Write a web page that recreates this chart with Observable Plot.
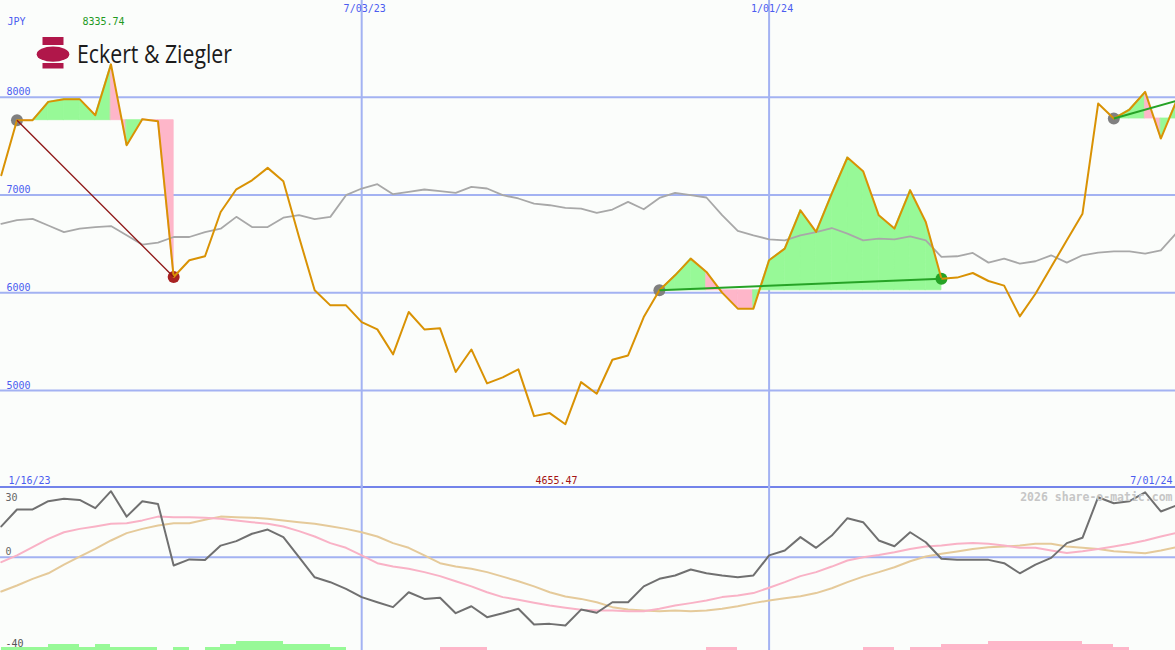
<!DOCTYPE html>
<html><head><meta charset="utf-8">
<script src="https://cdn.jsdelivr.net/npm/d3@7"></script>
<script src="https://cdn.jsdelivr.net/npm/@observablehq/plot@0.6"></script>
<style>
html,body{margin:0;padding:0;background:#fbfdfb;overflow:hidden;}
#chart{position:relative;width:1175px;height:650px;background:#fbfdfb;overflow:hidden;}
#chart > svg{position:absolute;left:0;}
#sep{position:absolute;left:0;top:486px;width:1175px;height:2px;background:#7383ea;}
#logo{position:absolute;left:0;top:0;}
</style></head><body><div id="chart"><div id="sep"></div></div>
<script>
// ---------- data ----------
const dates = ["2023-01-23","2023-01-30","2023-02-06","2023-02-13","2023-02-20","2023-02-27","2023-03-06","2023-03-13","2023-03-20","2023-03-27",
"2023-04-03","2023-04-10","2023-04-17","2023-04-24","2023-05-01","2023-05-08","2023-05-15","2023-05-22","2023-05-29","2023-06-05",
"2023-06-12","2023-06-19","2023-06-26","2023-07-03","2023-07-10","2023-07-17","2023-07-24","2023-07-31","2023-08-07","2023-08-14",
"2023-08-21","2023-08-28","2023-09-04","2023-09-11","2023-09-18","2023-09-25","2023-10-02","2023-10-09","2023-10-16","2023-10-23",
"2023-10-30","2023-11-06","2023-11-13","2023-11-20","2023-11-27","2023-12-04","2023-12-11","2023-12-18","2023-12-25","2024-01-01",
"2024-01-08","2024-01-15","2024-01-22","2024-01-29","2024-02-05","2024-02-12","2024-02-19","2024-02-26","2024-03-04","2024-03-11",
"2024-03-18","2024-03-25","2024-04-01","2024-04-08","2024-04-15","2024-04-22","2024-04-29","2024-05-06","2024-05-13","2024-05-20",
"2024-05-27","2024-06-03","2024-06-10","2024-06-17","2024-06-24","2024-07-01"];
const price = [7202,7765,7765,7952,7980,7980,7816,8335.74,7509,7775,
7754,6161,6332,6373,6826,7058,7150,7277,7140,6570,
6025,5871,5871,5700,5625,5370,5803,5625,5636,5189,
5420,5073,5134,5216,4738,4769,4655.47,5086,4967,5315,
5359,5751,6025,6178,6349,6213,6001,5837,5837,6332,
6451,6843,6622,7014,7383,7243,6792,6656,7048,6724,
6144,6155,6202,6120,6073,5758,5990,6263,6536,6809,
7935,7782,7874,8054,7577,7962];
const benchmark = [6705,6742,6755,6688,6620,6655,6672,6682,6587,6492,
6512,6570,6570,6620,6655,6776,6672,6672,6768,6793,
6752,6776,6998,7066,7110,7008,7032,7056,7039,7022,
7083,7066,6998,6964,6912,6895,6868,6861,6817,6851,
6929,6854,6970,7022,6998,6974,6793,6633,6587,6546,
6536,6587,6620,6662,6604,6536,6553,6546,6577,6536,
6366,6373,6407,6308,6349,6298,6322,6383,6308,6383,
6411,6424,6424,6400,6434,6612];
const momentum = [13.8,21.4,21.4,25.1,26.2,25.7,22.0,29.6,18.2,25.1,
23.9,-3.7,-1.0,-1.3,5.2,7.2,10.5,12.4,9.0,0.0,
-9.0,-11.2,-14.2,-17.9,-20.2,-22.4,-15.7,-18.7,-18.2,-25.1,
-22.0,-26.9,-25.1,-23.1,-30.2,-29.9,-30.6,-23.5,-24.9,-20.2,
-20.2,-13.1,-9.7,-8.2,-5.5,-7.2,-8.2,-9.0,-8.2,0.8,
3.0,9.0,4.2,9.7,17.5,15.7,7.5,4.9,11.2,6.7,
-0.7,-1.2,-1.2,-1.2,-2.7,-7.2,-3.3,-0.3,6.3,8.7,
26.9,24.2,25.1,29.1,20.5,23.2];
const maFast = [-2.2,0.8,4.5,8.2,11.2,12.7,13.8,15.0,15.2,16.5,
18.2,17.9,17.9,17.7,17.2,16.5,15.7,15.0,13.8,11.7,
9.3,6.3,4.2,0.8,-2.7,-4.2,-5.2,-6.7,-8.5,-10.8,
-13.1,-15.7,-17.9,-19.1,-20.4,-21.7,-22.7,-23.6,-23.9,-23.9,
-24.2,-24.2,-23.1,-21.7,-20.6,-19.4,-17.9,-17.2,-16.1,-13.7,
-11.2,-8.5,-6.7,-4.2,-1.5,0.0,1.0,2.2,3.7,4.8,
5.2,6.0,6.4,6.0,5.2,4.2,4.2,3.0,1.9,2.7,
3.7,4.8,6.0,7.5,9.3,10.9];
const maSlow = [-15.4,-12.7,-9.7,-7.2,-3.3,0.3,3.7,7.5,10.8,12.7,
14.2,15.2,15.2,16.8,18.2,17.9,17.7,17.2,16.5,15.7,
15.0,13.9,12.7,11.2,9.3,6.3,4.2,0.8,-2.7,-4.2,
-5.2,-6.7,-8.7,-10.8,-13.1,-15.7,-17.6,-18.7,-20.2,-22.4,
-23.5,-23.9,-24.2,-23.9,-24.2,-23.9,-23.1,-22.0,-20.6,-19.4,
-18.4,-17.5,-16.1,-13.9,-11.2,-8.7,-6.7,-4.5,-1.8,0.3,
1.5,2.6,3.7,4.5,4.8,5.2,6.0,6.0,4.8,4.2,
3.7,2.7,2.2,1.8,3.0,4.5];
const signal = [1,1,1,2,2,1,2,1,1,1,
0,1,0,1,2,3,3,3,2,2,
2,1,0,0,0,0,0,0,-1,-1,
-1,0,0,0,0,0,0,0,0,0,
0,0,0,0,0,-1,-1,0,0,0,
0,0,0,0,0,-1,-1,0,-1,-1,
-2,-2,-2,-3,-3,-3,-3,-3,-3,-2,
-2,-1,0,0,0,0];
const trendSegments = [{from:1,to:11,open:false},{from:42,to:60,open:false},{from:71,to:75,open:true}];
const upperTicks = [5000,6000,7000,8000];
const gridDates = ["2023-07-03","2024-01-01"];
const gridDateLabels = ["7/03/23","1/01/24"];
const lowerTop = [30], lowerZero = [0], lowerBottom = [-40];
const currency = "JPY";
const rangeStartLabel = "1/16/23";
const rangeEndLabel = "7/01/24";
const copyright = "2026 share-o-matic.com";
const company = "Eckert & Ziegler";

// ---------- styles ----------
const MONO = "DejaVu Sans Mono, monospace";
const BLUE = "#4b5cf0", GRID = "#a3b2f2";
const GREEN_FILL = "#97f997", PINK_FILL = "#feb6c9";
const ORANGE = "#d99204", GRAY = "#a8a8a8";
const W = 1175;

const rows = dates.map((d,i)=>({date:new Date(d), price:price[i], bench:benchmark[i], mom:momentum[i], fast:maFast[i], slow:maSlow[i]}));
const xDomain = [rows[0].date, rows[rows.length-1].date];
const xOpt = {type:"utc", domain:xDomain, range:[0.8, 1176], axis:null};

const fillRows = [];
trendSegments.forEach((s,si)=>{
  const base = price[s.from];
  for(let i=s.from;i<s.to;i++){
    const up = price[i+1] > base;
    const key = si+"-"+i;
    fillRows.push({date:rows[i].date, base, p:price[i], key, up});
    fillRows.push({date:rows[i+1].date, base, p:price[i+1], key, up});
  }
});
const segDir = s => price[s.to] >= price[s.from];
const fmt2 = d3.format(".2f");
const maxP = d3.max(price), minP = d3.min(price);

const chart = document.getElementById("chart");
function place(svg, top){ svg.style.position="absolute"; svg.style.top=top+"px"; svg.style.left="0px"; chart.appendChild(svg); }

// ---------- upper panel ----------
const upper = Plot.plot({
  width: W, height: 487, margin: 0,
  style: {background:"transparent", overflow:"visible"},
  x: xOpt,
  y: {domain:[4008, 8989], range:[487, 0], axis:null},
  color: {type:"identity"},
  marks: [
    Plot.ruleY(upperTicks, {stroke: GRID, strokeWidth: 2}),
    Plot.ruleX(gridDates, {x: d=>new Date(d), stroke: GRID, strokeWidth: 2}),
    Plot.areaY(fillRows, {x:"date", y1:"base", y2:"p", z:"key", fill: d=>d.up?GREEN_FILL:PINK_FILL, stroke: d=>d.up?GREEN_FILL:PINK_FILL, strokeWidth: 0.8}),
    Plot.lineY(rows, {x:"date", y:"bench", stroke: GRAY, strokeWidth: 1.8}),
    Plot.dot(trendSegments, {x: s=>rows[s.from].date, y: s=>price[s.from], r: 6, fill: "#808080"}),
    Plot.dot(trendSegments.filter(s=>!s.open), {x: s=>rows[s.to].date, y: s=>price[s.to], r: 6, fill: s=>segDir(s)?"#26a326":"#a82222"}),
    Plot.lineY(rows, {x:"date", y:"price", stroke: ORANGE, strokeWidth: 2}),
    Plot.link(trendSegments.filter(s=>!segDir(s)), {x1: s=>rows[s.from].date, y1: s=>price[s.from], x2: s=>rows[s.to].date, y2: s=>price[s.to], stroke: "#8e1515", strokeWidth: 1.3}),
    Plot.link(trendSegments.filter(s=>segDir(s)), {x1: s=>rows[s.from].date, y1: s=>price[s.from], x2: s=>rows[s.to].date, y2: s=>price[s.to], stroke: "#26a326", strokeWidth: 2}),
    Plot.text(upperTicks, {y: d=>d, frameAnchor:"left", text: d=>String(d), textAnchor:"start", lineAnchor:"bottom", dx: 6, dy: -2, fill: BLUE, fontSize: 10, fontFamily: MONO}),
    Plot.text(gridDates, {x: d=>new Date(d), frameAnchor:"top", text: (d,i)=>gridDateLabels[i], lineAnchor:"top", dy: 4, dx: 3, fill: BLUE, fontSize: 10, fontFamily: MONO}),
    Plot.text([currency], {frameAnchor:"top-left", text: d=>d, textAnchor:"start", lineAnchor:"top", dx: 7, dy: 17, fill: BLUE, fontSize: 10, fontFamily: MONO}),
    Plot.text([maxP], {frameAnchor:"top-left", text: d=>fmt2(d), textAnchor:"start", lineAnchor:"top", dx: 82, dy: 17, fill: "#1f9a1f", fontSize: 10, fontFamily: MONO}),
    Plot.text([rangeStartLabel], {frameAnchor:"bottom-left", text: d=>d, textAnchor:"start", lineAnchor:"bottom", dx: 8, dy: -4, fill: BLUE, fontSize: 10, fontFamily: MONO}),
    Plot.text([minP], {frameAnchor:"bottom-left", text: d=>fmt2(d), textAnchor:"start", lineAnchor:"bottom", dx: 535, dy: -4, fill: "#a31414", fontSize: 10, fontFamily: MONO}),
    Plot.text([rangeEndLabel], {frameAnchor:"bottom-right", text: d=>d, textAnchor:"end", lineAnchor:"bottom", dx: -3, dy: -4, fill: BLUE, fontSize: 10, fontFamily: MONO})
  ]
});
place(upper, 0);

// ---------- lower panel ----------
const lower = Plot.plot({
  width: W, height: 165, margin: 0,
  style: {background:"transparent", overflow:"visible"},
  x: xOpt,
  y: {domain:[-41.84, 32.15], range:[165, 0], axis:null},
  marks: [
    Plot.ruleY(lowerZero, {stroke: GRID, strokeWidth: 2}),
    Plot.ruleX(gridDates, {x: d=>new Date(d), y1: -41.84, y2: 32.15, stroke: GRID, strokeWidth: 2}),
    Plot.lineY(rows, {x:"date", y:"slow", stroke:"#e5ca9a", strokeWidth: 2}),
    Plot.lineY(rows, {x:"date", y:"fast", stroke:"#f9b2c6", strokeWidth: 2}),
    Plot.lineY(rows, {x:"date", y:"mom", stroke:"#707070", strokeWidth: 2}),
    Plot.text(lowerTop, {frameAnchor:"top-left", text: d=>String(d), textAnchor:"start", lineAnchor:"top", dx: 5, dy: 8, fill: "#666", fontSize: 10, fontFamily: MONO}),
    Plot.text(lowerZero, {y: d=>d, frameAnchor:"left", text: d=>String(d), textAnchor:"start", lineAnchor:"bottom", dx: 5, dy: -2, fill: "#666", fontSize: 10, fontFamily: MONO}),
    Plot.text(lowerBottom, {frameAnchor:"bottom-left", text: d=>String(d), textAnchor:"start", lineAnchor:"bottom", dx: 5, dy: -4, fill: "#555", fontSize: 10, fontFamily: MONO}),
    Plot.text([copyright], {frameAnchor:"top-right", text: d=>d, textAnchor:"end", lineAnchor:"top", dx: -3, dy: 7, fill: "#c6c6c6", fontWeight: "bold", fontSize: 11.5, fontFamily: MONO})
  ]
});
place(lower, 485);

// ---------- signal bars ----------
const barRows = rows.slice(0,-1).map((r,i)=>({x1:r.date, x2:rows[i+1].date, level:signal[i]})).filter(b=>b.level!==0);
const bars = Plot.plot({
  width: W, height: 9, margin: 0,
  style: {background:"transparent", overflow:"visible"},
  x: xOpt,
  y: {domain:[0,3], range:[9,0], axis:null},
  color: {type:"identity"},
  marks: [
    Plot.rectY(barRows, {x1:"x1", x2:"x2", y1: 0, y2: b=>Math.abs(b.level), fill: b=>b.level>0?GREEN_FILL:PINK_FILL, shapeRendering: "crispEdges"})
  ]
});
place(bars, 641);

// ---------- logo ----------
const ns = "http://www.w3.org/2000/svg";
const logo = document.createElementNS(ns, "svg");
logo.setAttribute("id","logo"); logo.setAttribute("width","340"); logo.setAttribute("height","90");
logo.innerHTML = `<rect x="42.5" y="37" width="21" height="8" fill="#b0174a"/>
<ellipse cx="53" cy="54.2" rx="16.3" ry="7.6" fill="#b0174a"/>
<rect x="42.5" y="63" width="21" height="5.5" fill="#b0174a"/>
<text x="77" y="63" font-family="Open Sans, sans-serif" font-size="25" fill="#1b1b1b" textLength="155" lengthAdjust="spacingAndGlyphs"></text>`;
logo.querySelector("text").textContent = company;
logo.style.position="absolute"; logo.style.top="0px"; logo.style.left="0px";
chart.appendChild(logo);
</script></body></html>
